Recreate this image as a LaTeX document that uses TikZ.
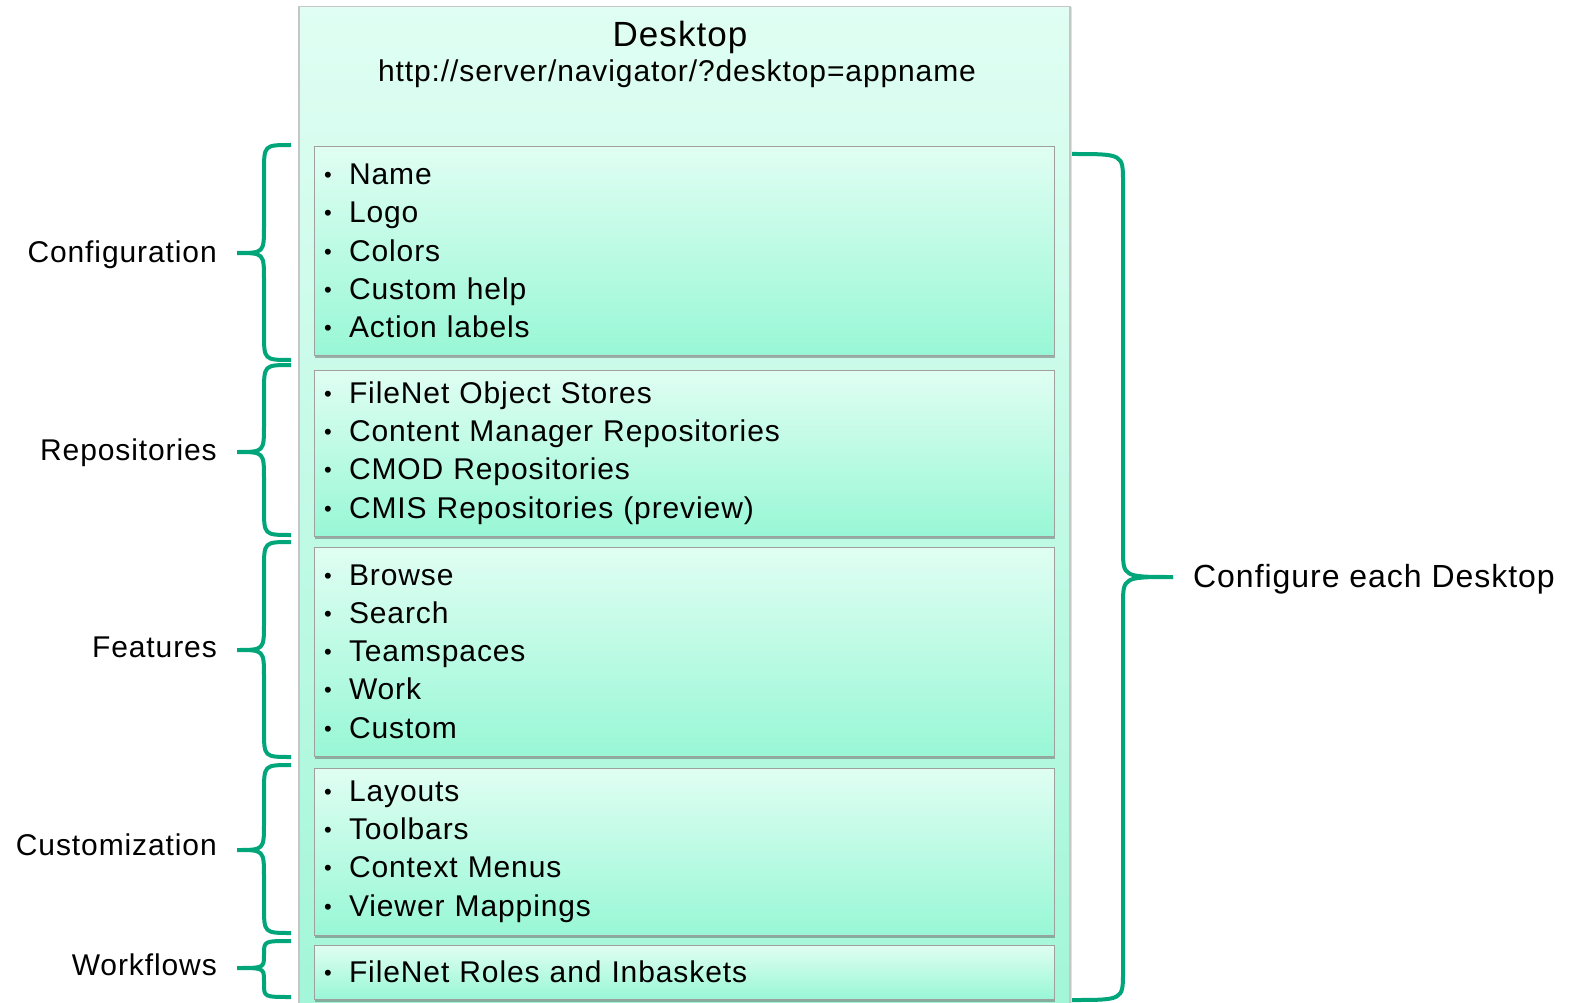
\documentclass[tikz,border=0pt]{standalone}
\usepackage{fontspec}
\setmainfont{Liberation Sans}[LetterSpace=3]
\usetikzlibrary{positioning,shadows}
\definecolor{mintlt}{HTML}{E0FEF3}
\definecolor{mintdk}{HTML}{98F7D6}
\definecolor{deskdk}{HTML}{A2F6D8}
\definecolor{brc}{HTML}{00A679}
\newcommand{\itm}[1]{\makebox[25pt][l]{\raisebox{2pt}{\fontsize{22}{22}\selectfont\textbullet}}#1}
\newcommand{\brce}[7]{\draw[curly] (#1,#4) .. controls (#2,#4) .. (#2,#4+#7) -- (#2,#5-#7) .. controls (#2,#5) .. (#3,#5) .. controls (#2,#5) .. (#2,#5+#7) -- (#2,#6-#7) .. controls (#2,#6) .. (#1,#6);}

\begin{document}
\begin{tikzpicture}[x=1pt,y=-1pt,
  deskbox/.style={draw=gray!45, line width=1.5pt, top color=mintlt, bottom color=deskdk, drop shadow={shadow xshift=2pt, shadow yshift=0pt, fill=black!40, opacity=.3}},
  item/.style={draw=gray!75, line width=1pt, top color=mintlt, bottom color=mintdk, text width=720pt, inner xsep=10pt, inner ysep=0pt, align=left, font=\fontsize{30}{38.3}\selectfont, drop shadow={shadow xshift=1pt, shadow yshift=-3pt, fill=black!60, opacity=.5}},
  lbl/.style={inner sep=0pt, font=\fontsize{30}{36}\selectfont},
  curly/.style={draw=brc, line width=4pt}]
\useasboundingbox (0,0) rectangle (1577,1003);
\clip (0,0) rectangle (1577,1003);
\node[deskbox, minimum width=771pt, minimum height=1012pt, anchor=north west] (desk) at (298,6) {};
\node[anchor=base, font=\fontsize{35}{40}\selectfont] (ttl) at (680,47) {Desktop};
\node[anchor=base, font=\fontsize{30}{36}\selectfont] (url) at (677,82) {http://server/navigator/?desktop=appname};

\node[item, minimum height=208pt] (cfg) at (684,251) {\itm{Name}\\ \itm{Logo}\\ \itm{Colors}\\ \itm{Custom help}\\ \itm{Action labels}};
\node[item, minimum height=166pt, below=14pt of cfg] (repo) {\itm{FileNet Object Stores}\\ \itm{Content Manager Repositories}\\ \itm{CMOD Repositories}\\ \itm{CMIS Repositories (preview)}};
\node[item, minimum height=209pt, below=10pt of repo] (feat) {\itm{Browse}\\ \itm{Search}\\ \itm{Teamspaces}\\ \itm{Work}\\ \itm{Custom}};
\node[item, minimum height=167pt, below=11pt of feat] (cust) {\itm{Layouts}\\ \itm{Toolbars}\\ \itm{Context Menus}\\ \itm{Viewer Mappings}};
\node[item, minimum height=54pt, below=9pt of cust] (wf) {\itm{FileNet Roles and Inbaskets}};

\brce{291}{264}{237}{145}{253}{360}{27}
\brce{291}{264}{237}{365}{452}{535}{27}
\brce{291}{264}{237}{542}{650}{757}{27}
\brce{291}{264}{237}{765}{850}{933}{27}
\brce{291}{264}{237}{941}{968}{997}{13}
\brce{1072}{1123}{1173}{154}{577}{1000}{28}

\node[lbl, anchor=base east] (cfgl) at (217,262) {Configuration};
\node[lbl, anchor=base east] (repol) at (217,460) {Repositories};
\node[lbl, anchor=base east] (featl) at (217,657) {Features};
\node[lbl, anchor=base east] (custl) at (217,855) {Customization};
\node[lbl, anchor=base east] (wfl) at (217,975) {Workflows};
\node[lbl, anchor=base west, font=\fontsize{32}{38}\selectfont] (each) at (1193,587) {Configure each Desktop};
\end{tikzpicture}
\end{document}
